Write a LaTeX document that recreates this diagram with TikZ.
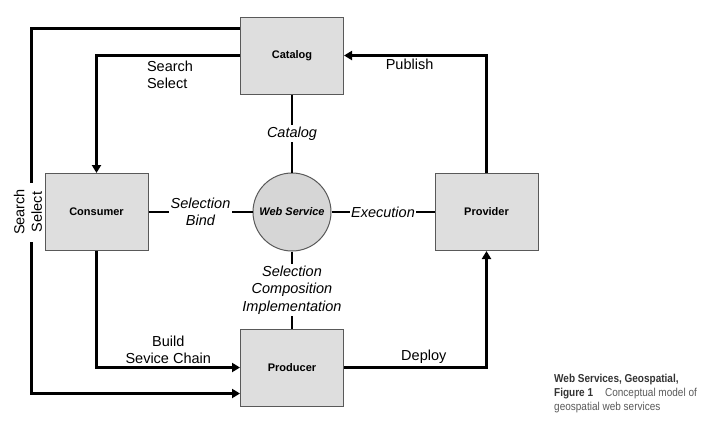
\documentclass[tikz,border=0pt]{standalone}
\usepackage{fontspec}
\setmainfont{Liberation Sans}
\newfontfamily\capfont[FakeStretch=0.87]{Liberation Sans}
\usetikzlibrary{arrows.meta}

\begin{document}
\begin{tikzpicture}
	[x=1pt,y=-1pt,line join=miter,
	%Styles
	>={Triangle[length=8pt,width=9pt]},
	box/.style={draw=boxline,fill=boxfill,line width=1pt,minimum width=103pt,minimum height=77pt,font=\fontsize{11}{13}\selectfont\bfseries},
	service/.style={circle,draw=boxline,fill=circlefill,line width=1pt,minimum size=78pt,inner sep=0pt,font=\fontsize{11}{13}\selectfont\bfseries\itshape},
	flow line/.style={line width=3pt},
	link line/.style={line width=2pt},
	flow text/.style={font=\fontsize{14.5}{17.4}\selectfont,align=center,inner sep=2pt},
	link text/.style={flow text,font=\fontsize{14.5}{17.4}\selectfont\itshape,fill=white,inner sep=1.5pt},
	caption text/.style={font=\capfont\fontsize{11.5}{14}\selectfont,align=left,text=captiongray,inner sep=0pt}
	]
	
	%Colors
	\colorlet{boxline}{black!65}
	\colorlet{boxfill}{black!13}
	\colorlet{circlefill}{black!16}
	\colorlet{captiongray}{black!65}
	
	\useasboundingbox (0,0) rectangle (721,421);
	
	%The nodes
	\node[box] (cat) at (292,55.5) {Catalog};
	\node[box] (con) at (96.5,212) {Consumer};
	\node[service] (ws) at (292,212) {Web Service};
	\node[box] (prov) at (486.5,212) {Provider};
	\node[box] (prod) at (292,367.5) {Producer};
	
	%Links to the web service
	\draw[link line] (cat) -- node[link text] {Catalog} (ws);
	\draw[link line] (con) -- node[link text] {Selection\\Bind} (ws);
	\draw[link line] (ws) -- node[link text] {Execution} (prov);
	\draw[link line] (ws) -- node[link text] {Selection\\Composition\\Implementation} (prod);
	
	%Flows
	\draw[flow line,->] (cat.west) -| (con.north);
	\node[flow text,align=left] (search) at (170,75) {Search\\Select};
	
	\coordinate (outer top) at (31.5,183);
	\coordinate (outer bottom) at (31.5,242);
	\draw[flow line] ([yshift=-12pt]cat.north west) -| (outer top);
	\draw[flow line,->] (outer bottom) |- ([yshift=13pt]prod.south west);
	\node[flow text,rotate=90] (outer search) at (28,212) {Search\\Select};
	
	\draw[flow line,->] (con.south) |- node[flow text,above,pos=0.75] {Build\\Sevice Chain} (prod.west);
	\draw[flow line,->] (prod.east) -| node[flow text,above,pos=0.28] {Deploy} (prov.south);
	\draw[flow line,->] (prov.north) |- node[flow text,below,pos=0.77] {Publish} (cat.east);
	
	%Caption
	\node[caption text,anchor=north west] (caption) at (554,374)
		{{\bfseries\color{black!80}Web Services, Geospatial,}\\
		{\bfseries\color{black!80}Figure 1}\hspace{12pt}Conceptual model of\\
		geospatial web services};
\end{tikzpicture}
\end{document}
